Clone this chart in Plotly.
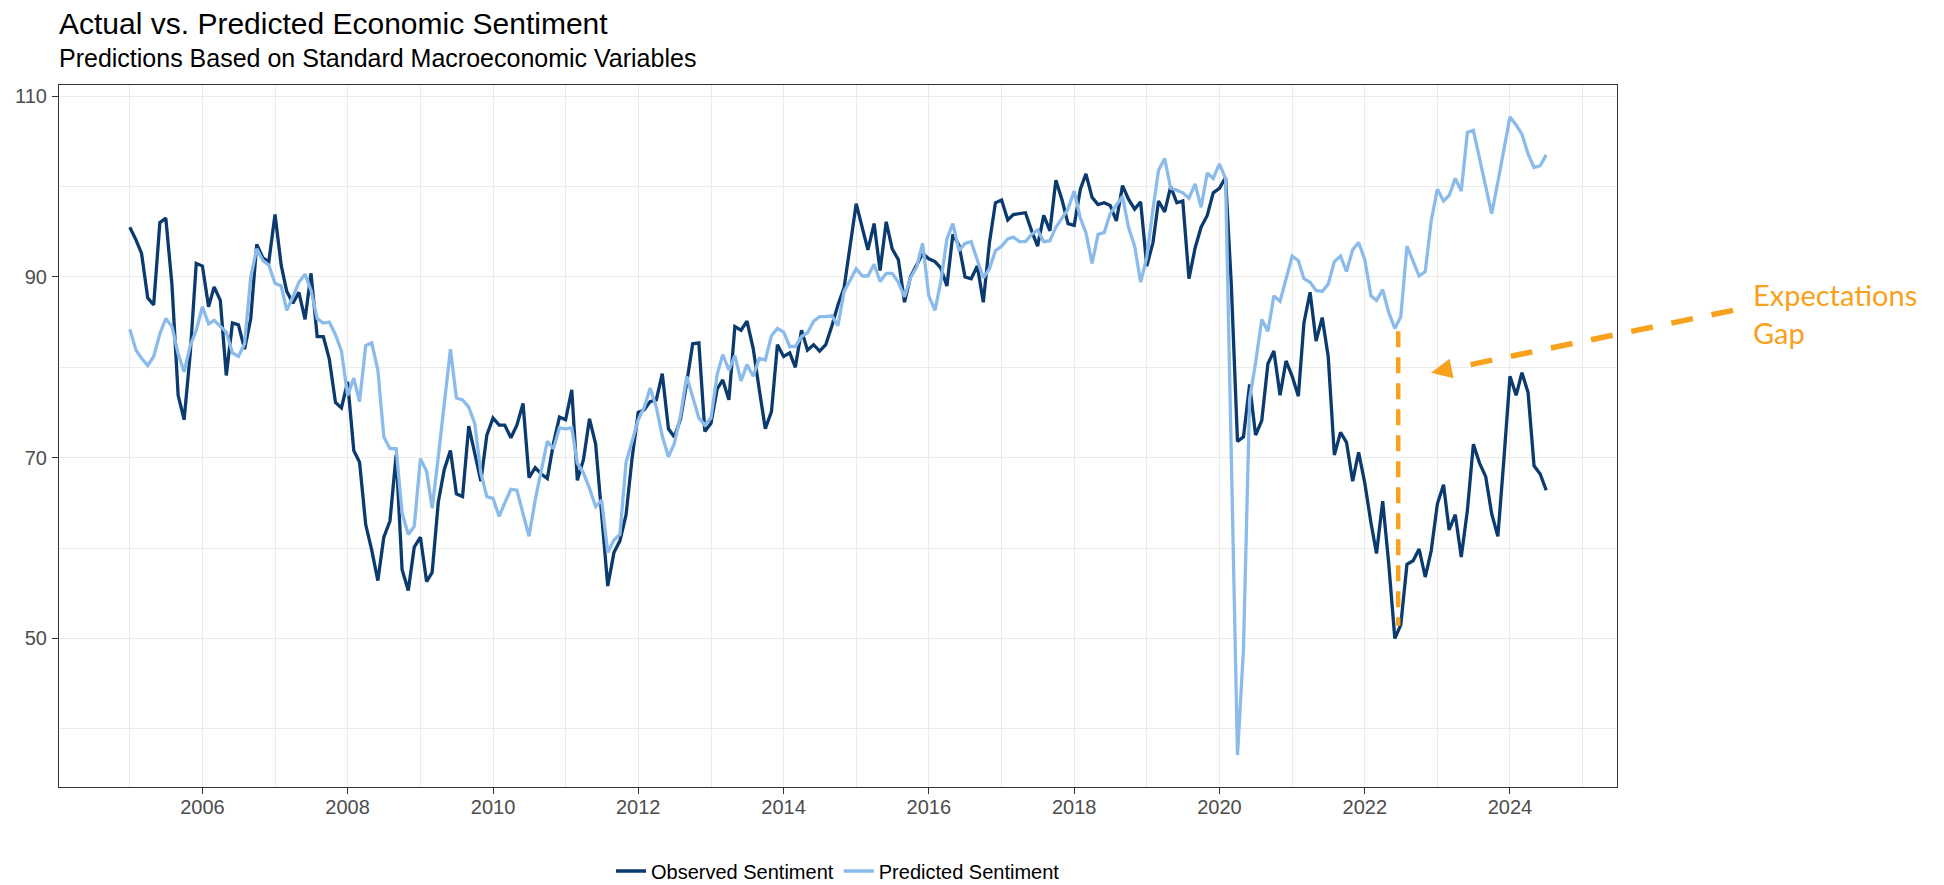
import pandas as pd
import plotly.graph_objects as go

# ---------------- data ----------------
start_month = "2005-01-01"

observed = [
    95.5, 94.1, 92.6, 87.7, 86.9, 96.0, 96.5, 89.1, 76.9, 74.2, 81.6, 91.5,   # 2005
    91.2, 86.7, 88.9, 87.4, 79.1, 84.9, 84.7, 82.0, 85.4, 93.6, 92.1, 91.7,   # 2006
    96.9, 91.3, 88.4, 87.1, 88.3, 85.3, 90.4, 83.4, 83.4, 80.9, 76.1, 75.5,   # 2007
    78.4, 70.8, 69.5, 62.6, 59.8, 56.4, 61.2, 63.0, 70.3, 57.6, 55.3, 60.1,   # 2008
    61.2, 56.3, 57.3, 65.1, 68.7, 70.8, 66.0, 65.7, 73.5, 70.6, 67.4, 72.5,   # 2009
    74.4, 73.6, 73.6, 72.2, 73.6, 76.0, 67.8, 68.9, 68.2, 67.7, 71.6, 74.5,   # 2010
    74.2, 77.5, 67.5, 69.8, 74.3, 71.5, 63.7, 55.8, 59.5, 60.8, 63.7, 69.9,   # 2011
    75.0, 75.3, 76.2, 76.4, 79.3, 73.2, 72.3, 74.3, 78.3, 82.6, 82.7, 72.9,   # 2012
    73.8, 77.6, 78.6, 76.4, 84.5, 84.1, 85.1, 82.1, 77.5, 73.2, 75.1, 82.5,   # 2013
    81.2, 81.6, 80.0, 84.1, 81.9, 82.5, 81.8, 82.5, 84.6, 86.9, 88.8, 93.6,   # 2014
    98.1, 95.4, 93.0, 95.9, 90.7, 96.1, 93.1, 91.9, 87.2, 90.0, 91.3, 92.6,   # 2015
    92.0, 91.7, 91.0, 89.0, 94.7, 93.5, 90.0, 89.8, 91.2, 87.2, 93.8, 98.2,   # 2016
    98.5, 96.3, 96.9, 97.0, 97.1, 95.1, 93.4, 96.8, 95.1, 100.7, 98.5, 95.9,  # 2017
    95.7, 99.7, 101.4, 98.8, 98.0, 98.2, 97.9, 96.2, 100.1, 98.6, 97.5, 98.3, # 2018
    91.2, 93.8, 98.4, 97.2, 100.0, 98.2, 98.4, 89.8, 93.2, 95.5, 96.8, 99.3,  # 2019
    99.8, 101.0, 89.1, 71.8, 72.3, 78.1, 72.5, 74.1, 80.4, 81.8, 76.9, 80.7,  # 2020
    79.0, 76.8, 84.9, 88.3, 82.9, 85.5, 81.2, 70.3, 72.8, 71.7, 67.4, 70.6,   # 2021
    67.2, 62.8, 59.4, 65.2, 58.4, 50.0, 51.5, 58.2, 58.6, 59.9, 56.8, 59.7,   # 2022
    64.9, 67.0, 62.0, 63.7, 59.0, 64.2, 71.5, 69.4, 67.9, 63.8, 61.3, 69.7,   # 2023
    79.0, 76.9, 79.4, 77.2, 69.1, 68.2, 66.4,                                 # 2024
]

predicted = [
    84.2, 81.9, 81.0, 80.2, 81.2, 83.7, 85.4, 84.5, 81.5, 79.5, 82.4, 84.1,   # 2005
    86.7, 84.8, 85.2, 84.6, 83.9, 81.6, 81.2, 82.6, 90.0, 93.1, 91.8, 91.3,   # 2006
    89.3, 89.0, 86.3, 87.8, 89.4, 90.3, 88.5, 85.4, 84.9, 85.0, 83.6, 81.8,   # 2007
    76.9, 78.8, 76.2, 82.4, 82.7, 79.7, 72.3, 71.0, 71.0, 63.9, 61.5, 62.4,   # 2008
    69.9, 68.5, 64.4, 70.1, 76.0, 82.0, 76.6, 76.4, 75.6, 73.8, 68.3, 65.7,   # 2009
    65.5, 63.5, 65.0, 66.5, 66.4, 63.9, 61.3, 65.3, 68.7, 71.8, 71.0, 73.3,   # 2010
    73.2, 73.3, 69.4, 68.3, 66.6, 64.6, 65.3, 59.5, 60.9, 61.5, 69.5, 71.9,   # 2011
    74.2, 75.6, 77.7, 75.6, 72.4, 70.1, 71.6, 74.7, 79.0, 76.7, 74.4, 73.6,   # 2012
    74.4, 79.2, 81.4, 79.7, 81.3, 78.5, 80.3, 79.0, 81.0, 80.8, 83.5, 84.3,   # 2013
    83.9, 82.3, 82.3, 83.4, 83.8, 85.1, 85.6, 85.6, 85.7, 84.6, 88.4, 89.6,   # 2014
    90.9, 90.1, 90.1, 91.4, 89.5, 90.4, 90.4, 89.4, 87.8, 89.9, 91.1, 93.7,   # 2015
    87.9, 86.3, 89.4, 94.2, 95.9, 92.9, 93.7, 93.9, 91.9, 89.9, 90.9, 92.9,   # 2016
    93.4, 94.2, 94.4, 93.9, 93.9, 94.7, 95.2, 93.9, 94.0, 95.5, 96.5, 97.5,   # 2017
    99.5, 96.5, 94.9, 91.5, 94.7, 94.9, 97.0, 98.0, 98.9, 95.5, 93.4, 89.4,   # 2018
    92.2, 97.5, 101.8, 103.1, 99.8, 99.6, 99.3, 98.7, 100.3, 97.7, 101.5, 100.9,  # 2019
    102.5, 100.9, 70.0, 37.1, 48.8, 76.5, 80.5, 85.3, 84.0, 87.9, 87.3, 89.9,     # 2020
    92.3, 91.8, 89.8, 89.4, 88.5, 88.4, 89.2, 91.7, 92.3, 90.6, 93.0, 93.8,       # 2021
    91.9, 87.9, 87.4, 88.6, 86.1, 84.3, 85.6, 93.4, 91.7, 90.1, 90.6, 96.2,       # 2022
    99.7, 98.4, 99.0, 100.9, 99.5, 106.0, 106.2, 103.2, 100.1, 97.0, 100.5, 104.1, # 2023
    107.7, 106.8, 105.8, 103.6, 102.1, 102.3, 103.5,                              # 2024
]

series_names = ["Observed Sentiment", "Predicted Sentiment"]
y_tick_values = [50, 70, 90, 110]
y_minor_values = [40, 60, 80, 100]

title_text = "Actual vs. Predicted Economic Sentiment"
subtitle_text = "Predictions Based on Standard Macroeconomic Variables"
gap_label = "Expectations<br>Gap"
gap_date = "2022-06-18"
gap_top = 84.0
gap_bottom = 51.4

# ---------------- styling ----------------
W, H = 1944, 885
M = dict(l=59, r=327, t=85, b=98)
PW = W - M["l"] - M["r"]
PH = H - M["t"] - M["b"]

DARK = "#0a3a6e"
LIGHT = "#8bbbea"
ORANGE = "#f7a11c"
GRID = "#ebebeb"
BORDER = "#333333"
FONT = "Liberation Sans, Arial, sans-serif"

dates = pd.date_range(start_month, periods=len(observed), freq="MS")

# ggplot-like 5% expansion
x0, x1 = dates[0], dates[-1]
span = x1 - x0
x_range = [x0 - span * 0.05, x1 + span * 0.05]
ymin = min(min(observed), min(predicted))
ymax = max(max(observed), max(predicted))
yspan = ymax - ymin
y_range = [ymin - 0.05 * yspan, ymax + 0.05 * yspan]

fig = go.Figure()
fig.add_trace(go.Scatter(x=dates, y=observed, mode="lines", name=series_names[0],
                         line=dict(color=DARK, width=3.3)))
fig.add_trace(go.Scatter(x=dates, y=predicted, mode="lines", name=series_names[1],
                         line=dict(color=LIGHT, width=3.3)))

# vertical gap line (data coordinates)
fig.add_shape(type="line", xref="x", yref="y", x0=gap_date, x1=gap_date,
              y0=gap_top, y1=gap_bottom,
              line=dict(color=ORANGE, width=4.5, dash="16px,10px"), layer="above")

# arrow (paper coordinates) from label towards the gap
arrow_start = (1.0745, 0.679)
arrow_tip = (0.8806, 0.590)
dxp = (arrow_tip[0] - arrow_start[0]) * PW
dyp = (arrow_tip[1] - arrow_start[1]) * PH
L = (dxp ** 2 + dyp ** 2) ** 0.5
ux, uy = dxp / L, dyp / L
head_len, head_half = 21, 10
bx = arrow_tip[0] * PW - head_len * ux
by = arrow_tip[1] * PH - head_len * uy
nx, ny = -uy, ux
c1 = ((bx + head_half * nx) / PW, (by + head_half * ny) / PH)
c2 = ((bx - head_half * nx) / PW, (by - head_half * ny) / PH)
line_end = ((bx - 6 * ux) / PW, (by - 6 * uy) / PH)

fig.add_shape(type="line", xref="paper", yref="paper",
              x0=arrow_start[0], y0=arrow_start[1], x1=line_end[0], y1=line_end[1],
              line=dict(color=ORANGE, width=5.5, dash="22px,19px"), layer="above")
fig.add_shape(type="path", xref="paper", yref="paper",
              path=f"M {arrow_tip[0]} {arrow_tip[1]} L {c1[0]} {c1[1]} L {c2[0]} {c2[1]} Z",
              fillcolor=ORANGE, line=dict(color=ORANGE, width=0), layer="above")

fig.add_annotation(text=gap_label, xref="paper", yref="paper", x=1.086, y=0.674,
                   xanchor="left", yanchor="middle", align="left", showarrow=False,
                   font=dict(family="Lato, sans-serif", size=29, color=ORANGE))

# title & subtitle
fig.add_annotation(text=title_text, xref="paper", yref="paper", x=-0.001, y=1.088,
                   xanchor="left", yanchor="middle", showarrow=False,
                   font=dict(family=FONT, size=30, color="#000000"))
fig.add_annotation(text=subtitle_text, xref="paper", yref="paper", x=-0.001, y=1.0379,
                   xanchor="left", yanchor="middle", showarrow=False,
                   font=dict(family=FONT, size=25, color="#000000"))

fig.update_layout(
    width=W, height=H,
    margin=dict(M, autoexpand=False),
    paper_bgcolor="white", plot_bgcolor="white",
    font=dict(family=FONT, size=20, color="#000000"),
    showlegend=True,
    legend=dict(orientation="h", x=0.5, xanchor="center",
                yref="container", y=(H - 871) / H, yanchor="middle",
                font=dict(family=FONT, size=20, color="#000000"),
                itemwidth=30, bgcolor="rgba(0,0,0,0)"),
    xaxis=dict(
        type="date", range=x_range, tick0="2006-01-01", dtick="M24", tickformat="%Y",
        automargin=False,
        showgrid=True, gridcolor=GRID, gridwidth=1.3,
        minor=dict(tick0="2005-01-01", dtick="M24", showgrid=True, gridcolor=GRID, gridwidth=0.7),
        ticks="outside", ticklen=6, tickwidth=1.1, tickcolor=BORDER,
        ticklabelstandoff=-4,
        tickfont=dict(family=FONT, size=20, color="#4d4d4d"),
        showline=True, linecolor=BORDER, linewidth=1.1, mirror=True, zeroline=False,
    ),
    yaxis=dict(
        range=y_range, tickvals=y_tick_values, automargin=False,
        showgrid=True, gridcolor=GRID, gridwidth=1.3,
        minor=dict(tickvals=y_minor_values, showgrid=True, gridcolor=GRID, gridwidth=0.7),
        ticks="outside", ticklen=6, tickwidth=1.1, tickcolor=BORDER,
        ticklabelstandoff=1,
        tickfont=dict(family=FONT, size=20, color="#4d4d4d"),
        showline=True, linecolor=BORDER, linewidth=1.1, mirror=True, zeroline=False,
    ),
)

fig.write_html(
    "out.html",
    config={"displayModeBar": False},
    post_script="document.body.style.margin='0px';document.body.style.overflow='hidden';",
)
